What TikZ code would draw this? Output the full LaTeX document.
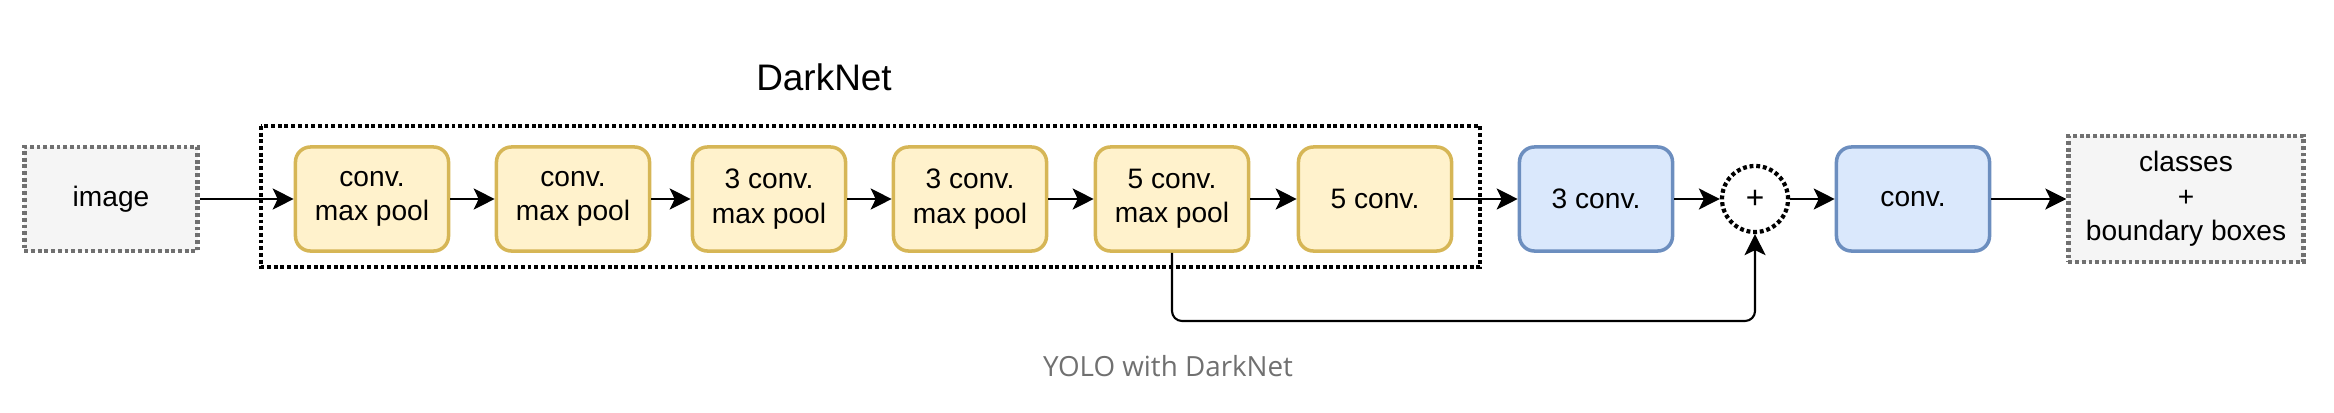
\documentclass[tikz,border=0pt]{standalone}
\usepackage{fontspec}
\setmainfont{Liberation Sans}
\newfontfamily\capfont{Open Sans}
\usetikzlibrary{arrows.meta}
\definecolor{yfill}{HTML}{FFF2CC}
\definecolor{yline}{HTML}{D6B656}
\definecolor{bfill}{HTML}{DAE8FC}
\definecolor{bline}{HTML}{6C8EBF}
\definecolor{gfill}{HTML}{F5F5F5}
\definecolor{gline}{HTML}{707070}
\definecolor{captext}{HTML}{707070}
\tikzset{
	dots/.style={line width=1.2pt,dash pattern=on 1.1pt off 0.8pt},
	layer/.style={draw=yline,fill=yfill,line width=1pt,rounded corners=0.15cm,minimum width=1.53cm,minimum height=1.04cm,inner sep=0pt,align=center,font=\fontsize{8}{9.8}\selectfont},
	head/.style={layer,draw=bline,fill=bfill},
	io/.style={dots,draw=gline,fill=gfill,minimum height=1.04cm,inner sep=0pt,align=center,font=\fontsize{8}{9.8}\selectfont},
	flow/.style={line width=0.6pt,-{Stealth[length=0.21cm,width=0.21cm,inset=0.05cm]}}
}
\begin{document}
\begin{tikzpicture}[x=0.01cm,y=-0.01cm]
	\useasboundingbox (0,0) rectangle (2334,412);
	\draw[dots] (261,126) rectangle (1480,267);
	\node (title) at (824,77) {\fontsize{10.5}{12}\selectfont DarkNet};
	\node[io,minimum width=1.73cm] (img) at (111,199) {image};
	\node[layer] (c1) at (372,199) {conv.\\max pool};
	\node[layer] (c2) at (573,199) {conv.\\max pool};
	\node[layer] (c3) at (769,199) {3 conv.\\max pool};
	\node[layer] (c4) at (970,199) {3 conv.\\max pool};
	\node[layer] (c5) at (1172,199) {5 conv.\\max pool};
	\node[layer] (c6) at (1375,199) {5 conv.};
	\node[head] (h1) at (1596,199) {3 conv.};
	\node[circle,draw,fill=white,dots,minimum size=0.66cm,inner sep=0pt,font=\fontsize{9}{11}\selectfont] (sum) at (1755,199) {+};
	\node[head] (h2) at (1913,199) {conv.};
	\node[io,minimum width=2.35cm,minimum height=1.26cm] (out) at (2186,199) {classes\\+\\boundary boxes};
	\node[font=\capfont\fontsize{7.9}{10}\selectfont,text=captext] (cap) at (1168,366) {YOLO with DarkNet};
	\draw[flow] (img) -- (c1);
	\draw[flow] (c1) -- (c2);
	\draw[flow] (c2) -- (c3);
	\draw[flow] (c3) -- (c4);
	\draw[flow] (c4) -- (c5);
	\draw[flow] (c5) -- (c6);
	\draw[flow] (c6) -- (h1);
	\draw[flow] (h1) -- (sum);
	\draw[flow] (sum) -- (h2);
	\draw[flow] (h2) -- (out);
	\draw[flow,rounded corners=0.1cm] (c5.south) |- (1455,321) -| (sum.south);
\end{tikzpicture}
\end{document}
